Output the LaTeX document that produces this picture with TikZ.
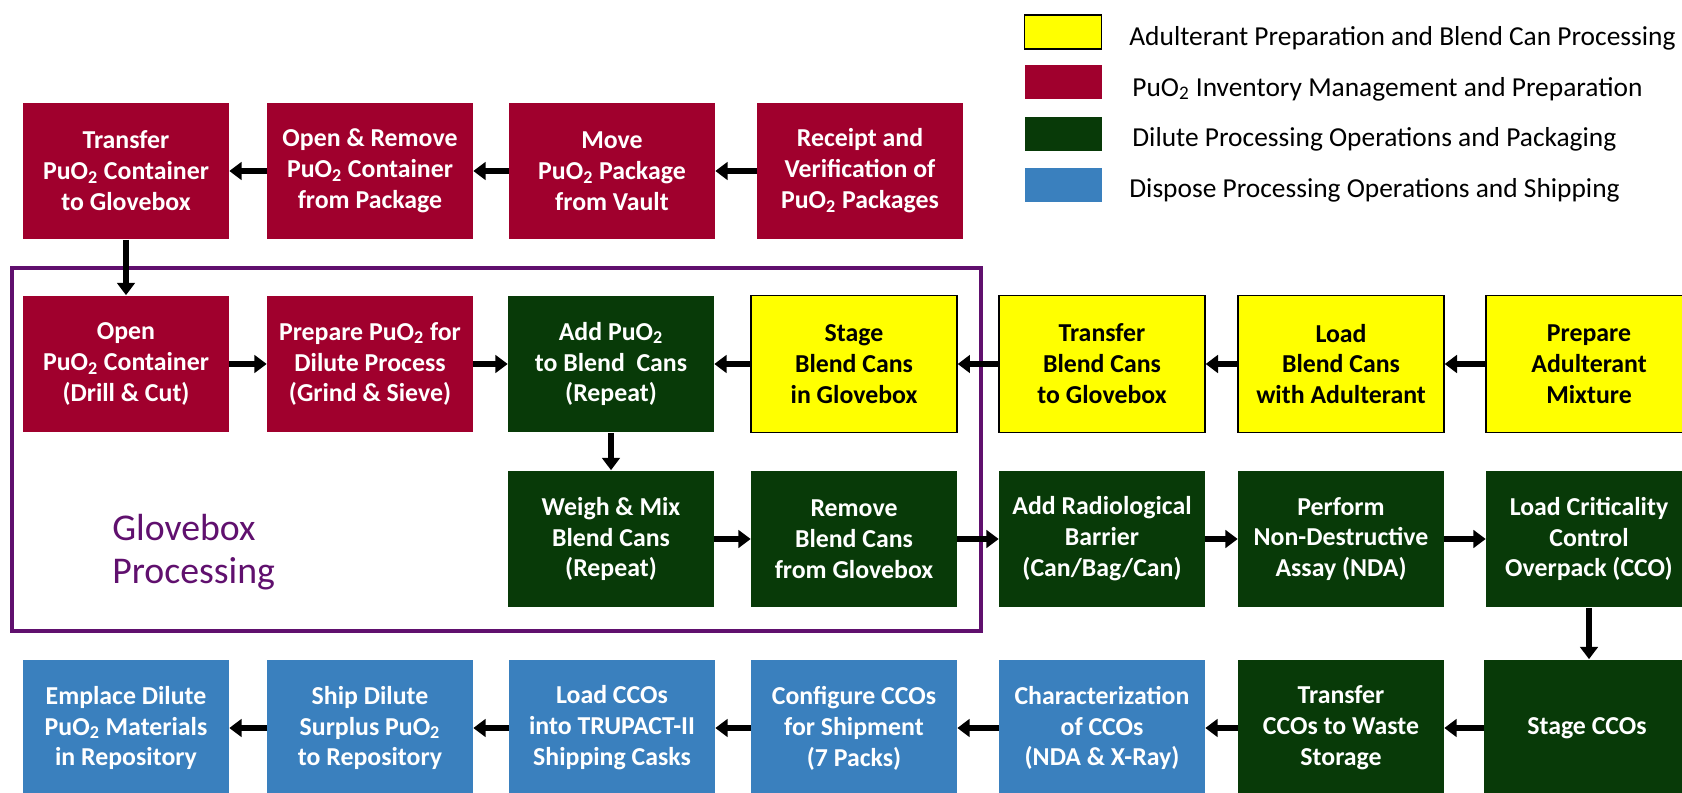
\documentclass[tikz,border=0pt]{standalone}
\usepackage{fontspec}
\setmainfont{Carlito}
\usetikzlibrary{arrows.meta}

\definecolor{puored}{RGB}{160,0,45}
\definecolor{dilgreen}{RGB}{8,58,8}
\definecolor{shipblue}{RGB}{58,128,190}
\definecolor{adultyellow}{RGB}{255,255,0}
\definecolor{gbpurple}{RGB}{96,16,110}

\newcommand{\PuO}{PuO\textsubscript{2}}

\begin{document}
\begin{tikzpicture}[
        x=0.02cm, y=-0.02cm,
        >={Triangle[length=7pt,width=10pt]},
        box/.style={
            minimum width=4.12cm, minimum height=2.74cm,
            align=center, inner sep=2pt,
            font=\bfseries\fontsize{14.7}{17.6}\selectfont
        },
        redbox/.style={box, fill=puored, text=white},
        greenbox/.style={box, fill=dilgreen, text=white},
        bluebox/.style={box, fill=shipblue, text=white},
        yellowbox/.style={box, fill=adultyellow, draw=black, line width=0.8pt, text=black},
        flow/.style={->, line width=3pt},
        swatch/.style={minimum width=1.54cm, minimum height=0.68cm, inner sep=0pt},
        legtext/.style={anchor=west, inner sep=0pt, font=\fontsize{15.6}{18}\selectfont}
    ]

    \useasboundingbox (0,0) rectangle (1682,793);
    \clip (0,0) rectangle (1682,793);

    % Legend
    \node[swatch, fill=adultyellow, draw=black, line width=1pt] (legyellow) at (1063,32) {};
    \node[legtext] (legyellowtext) at (1129,38) {Adulterant Preparation and Blend Can Processing};
    \node[swatch, fill=puored] (legred) at (1063,82) {};
    \node[legtext] (legredtext) at (1132,89) {\PuO{} Inventory Management and Preparation};
    \node[swatch, fill=dilgreen] (leggreen) at (1063,134) {};
    \node[legtext] (leggreentext) at (1132,139) {Dilute Processing Operations and Packaging};
    \node[swatch, fill=shipblue] (legblue) at (1063,185) {};
    \node[legtext] (legbluetext) at (1129,190) {Dispose Processing Operations and Shipping};

    % Glovebox frame
    \draw[gbpurple, line width=2.5pt] (12,268) rectangle (981,631);
    \node[text=gbpurple, align=left, anchor=west, inner sep=0pt,
          font=\fontsize{21.5}{24.5}\selectfont] (gblabel) at (112,552) {Glovebox\\Processing};

    % Row 1: inventory
    \node[redbox] (transfer) at (126,171) {Transfer\\\PuO{} Container\\to Glovebox};
    \node[redbox] (openremove) at (370,171) {Open \& Remove\\\PuO{} Container\\from Package};
    \node[redbox] (move) at (612,171) {Move\\\PuO{} Package\\from Vault};
    \node[redbox] (receipt) at (860,171) {Receipt and\\Verification of\\\PuO{} Packages};

    % Row 2: preparation and blend cans
    \node[redbox] (opencont) at (126,364) {Open\\\PuO{} Container\\(Drill \& Cut)};
    \node[redbox] (prepare) at (370,364) {Prepare \PuO{} for\\Dilute Process\\(Grind \& Sieve)};
    \node[greenbox] (addpuo) at (611,364) {Add \PuO{}\\to Blend~~Cans\\(Repeat)};
    \node[yellowbox] (stage) at (854,364) {Stage\\Blend Cans\\in Glovebox};
    \node[yellowbox] (transfercans) at (1102,364) {Transfer\\Blend Cans\\to Glovebox};
    \node[yellowbox] (loadcans) at (1341,364) {Load\\Blend Cans\\with Adulterant};
    \node[yellowbox] (prepadult) at (1589,364) {Prepare\\Adulterant\\Mixture};

    % Row 3: dilute processing
    \node[greenbox] (weigh) at (611,539) {Weigh \& Mix\\Blend Cans\\(Repeat)};
    \node[greenbox] (removecans) at (854,539) {Remove\\Blend Cans\\from Glovebox};
    \node[greenbox] (barrier) at (1102,539) {Add Radiological\\Barrier\\(Can/Bag/Can)};
    \node[greenbox] (nda) at (1341,539) {Perform\\Non-Destructive\\Assay (NDA)};
    \node[greenbox] (cco) at (1589,539) {Load Criticality\\Control\\Overpack (CCO)};

    % Row 4: shipping
    \node[bluebox] (emplace) at (126,728) {Emplace Dilute\\\PuO{} Materials\\in Repository};
    \node[bluebox] (ship) at (370,728) {Ship Dilute\\Surplus \PuO{}\\to Repository};
    \node[bluebox] (loadcco) at (612,728) {Load CCOs\\into TRUPACT-II\\Shipping Casks};
    \node[bluebox] (configure) at (854,728) {Configure CCOs\\for Shipment\\(7 Packs)};
    \node[bluebox] (charac) at (1102,728) {Characterization\\of CCOs\\(NDA \& X-Ray)};
    \node[greenbox] (transfercco) at (1341,728) {Transfer\\CCOs to Waste\\Storage};
    \node[greenbox] (stagecco) at (1587,728) {Stage CCOs};

    % Arrows
    \draw[flow] (receipt) -- (move);
    \draw[flow] (move) -- (openremove);
    \draw[flow] (openremove) -- (transfer);
    \draw[flow] (transfer) -- (opencont);
    \draw[flow] (opencont) -- (prepare);
    \draw[flow] (prepare) -- (addpuo);
    \draw[flow] (prepadult) -- (loadcans);
    \draw[flow] (loadcans) -- (transfercans);
    \draw[flow] (transfercans) -- (stage);
    \draw[flow] (stage) -- (addpuo);
    \draw[flow] (addpuo) -- (weigh);
    \draw[flow] (weigh) -- (removecans);
    \draw[flow] (removecans) -- (barrier);
    \draw[flow] (barrier) -- (nda);
    \draw[flow] (nda) -- (cco);
    \draw[flow] (cco) -- (cco |- stagecco.north);
    \draw[flow] (stagecco) -- (transfercco);
    \draw[flow] (transfercco) -- (charac);
    \draw[flow] (charac) -- (configure);
    \draw[flow] (configure) -- (loadcco);
    \draw[flow] (loadcco) -- (ship);
    \draw[flow] (ship) -- (emplace);

\end{tikzpicture}
\end{document}
